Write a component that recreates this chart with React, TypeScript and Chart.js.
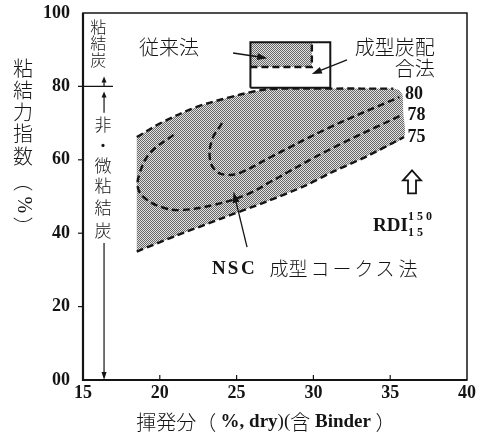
import React, { useEffect, useRef } from 'react';
import { Chart, registerables } from 'chart.js';

Chart.register(...registerables);

// ---- axes ----
const xMin = 15;
const xMax = 40;
const yMin = 0;
const yMax = 100;
const yTickLabels: Record<number, string> = { 0: '00', 20: '20', 40: '40', 60: '60', 80: '80', 100: '100' };

// ---- NSC成型コークス法 region (shaded envelope) ----
const envelopeX = [18.5, 20.2, 22.4, 24.6, 26.1, 27.2, 31.0, 35.2, 35.55, 35.8, 35.85, 35.9, 33.5, 31.1, 29.5, 27.0, 24.0, 21.0, 18.5];
const envelopeY = [66.2, 70.3, 74.4, 77.1, 78.6, 79.3, 79.4, 79.4, 79.0, 77.7, 72.8, 66.2, 61.0, 56.4, 53.0, 48.7, 44.0, 39.2, 35.0];

// upper dashed boundary of the region
const topX = [18.5, 20.2, 22.4, 24.6, 26.1, 27.2, 31.0, 35.2];
const topY = [66.2, 70.3, 74.4, 77.1, 78.6, 79.3, 79.4, 79.4];

// RDI contours
const c75X = [18.5, 21.0, 24.0, 27.0, 29.5, 31.1, 33.5, 35.9];
const c75Y = [35.0, 39.2, 44.0, 48.7, 53.0, 56.4, 61.0, 66.2];
const c78X = [20.9, 19.4, 18.7, 18.6, 19.2, 20.2, 21.3, 23.5, 25.7, 27.2, 31.1, 35.6];
const c78Y = [66.8, 62.0, 56.5, 52.0, 49.0, 47.0, 46.3, 47.7, 50.6, 54.0, 62.9, 71.9];
const c80X = [24.05, 23.4, 23.27, 23.7, 24.4, 25.2, 27.2, 31.1, 35.6];
const c80Y = [70.0, 65.4, 60.0, 56.8, 55.9, 56.4, 60.7, 68.9, 77.1];

// 成型炭配合法 box and 従来法 box
const boxX = [25.9, 25.9, 31.1, 31.1, 25.9];
const boxY = [79.6, 92.0, 92.0, 79.6, 79.6];
const oldFillX = [25.9, 29.9, 29.9, 25.9];
const oldFillY = [92.0, 92.0, 85.3, 85.3];
const oldEdgeX = [25.9, 29.9, 29.9];
const oldEdgeY = [85.3, 85.3, 92.0];

// ---- texts (data coordinates) ----
const contourLabels = ['80', '78', '75'];
const contourLabelX = [35.96, 36.12, 36.12];
const contourLabelY = [77.7, 72.2, 66.2];

const nscChars = ['N', 'S', 'C', '成', '型', 'コ', 'ー', 'ク', 'ス', '法'];
const nscCharX = [23.85, 24.77, 25.74, 27.76, 29.0, 30.43, 31.86, 33.29, 34.66, 36.16];
const nscY = 30.2;

const yTitleChars = ['粘', '結', '力', '指', '数', '︵', '%', '︶'];
const yTitleCharY = [85.0, 79.0, 73.0, 67.3, 60.8, 54.0, 47.7, 41.7];
const yTitleX = 11.1;

const cokingChars = ['粘', '結', '炭'];
const cokingCharY = [96.2, 91.8, 87.2];
const nonCokingChars = ['非', '・', '微', '粘', '結', '炭'];
const nonCokingCharY = [69.5, 64.0, 58.3, 52.9, 47.1, 40.6];

const CJK = '"Noto Sans CJK JP", sans-serif';
const SERIF = '"Liberation Serif", "DejaVu Serif", serif';
const INK = '#141414';

function makePattern(): CanvasPattern | string {
  const c = document.createElement('canvas');
  c.width = 2;
  c.height = 2;
  const g = c.getContext('2d');
  if (!g) return '#a0a0a0';
  g.fillStyle = '#e2e2e2';
  g.fillRect(0, 0, 2, 2);
  g.fillStyle = '#686868';
  g.fillRect(0, 0, 1, 1);
  g.fillRect(1, 1, 1, 1);
  const p = g.createPattern(c, 'repeat');
  return p || '#a0a0a0';
}

function pts(xs: number[], ys: number[]) {
  return xs.map((v, i) => ({ x: v, y: ys[i] }));
}

function drawArrow(ctx: CanvasRenderingContext2D, x1: number, y1: number, x2: number, y2: number, len = 9, half = 3.5) {
  const ang = Math.atan2(y2 - y1, x2 - x1);
  ctx.beginPath();
  ctx.moveTo(x1, y1);
  ctx.lineTo(x2 - Math.cos(ang) * len * 0.6, y2 - Math.sin(ang) * len * 0.6);
  ctx.stroke();
  ctx.beginPath();
  ctx.moveTo(x2, y2);
  ctx.lineTo(x2 - Math.cos(ang) * len + Math.sin(ang) * half, y2 - Math.sin(ang) * len - Math.cos(ang) * half);
  ctx.lineTo(x2 - Math.cos(ang) * len - Math.sin(ang) * half, y2 - Math.sin(ang) * len + Math.cos(ang) * half);
  ctx.closePath();
  ctx.fill();
}

const annotations = {
  id: 'annotations',
  afterDraw(chart: any) {
    const { ctx, chartArea: a, scales } = chart;
    const xs = scales.x;
    const ys = scales.y;
    const px = (v: number) => xs.getPixelForValue(v);
    const py = (v: number) => ys.getPixelForValue(v);
    ctx.save();
    ctx.strokeStyle = INK;
    ctx.fillStyle = INK;

    // frame
    ctx.lineWidth = 1.5;
    ctx.strokeRect(a.left, a.top, a.right - a.left, a.bottom - a.top);
    ctx.lineWidth = 2.2;
    ctx.beginPath();
    ctx.moveTo(a.left, a.top);
    ctx.lineTo(a.left, a.bottom);
    ctx.lineTo(a.right, a.bottom);
    ctx.stroke();

    // ticks
    ctx.lineWidth = 1.2;
    [20, 40, 60].forEach((v) => {
      ctx.beginPath();
      ctx.moveTo(a.left - 5, py(v));
      ctx.lineTo(a.left, py(v));
      ctx.stroke();
    });
    [20, 25, 30, 35].forEach((v) => {
      ctx.beginPath();
      ctx.moveTo(px(v), a.bottom);
      ctx.lineTo(px(v), a.bottom - 5);
      ctx.stroke();
    });
    // 80 boundary line at left
    ctx.beginPath();
    ctx.moveTo(a.left - 5, py(80));
    ctx.lineTo(px(16.95), py(80));
    ctx.stroke();

    // vertical range arrows
    const ax = px(16.37);
    ctx.lineWidth = 1.2;
    drawArrow(ctx, ax, py(80), ax, py(82.7), 6, 2.5);
    drawArrow(ctx, ax, py(72.8), ax, py(78.6), 6, 2.5);
    drawArrow(ctx, ax, py(37.3), ax, py(0), 8, 2.5);

    // pointer arrows
    ctx.lineWidth = 1.3;
    drawArrow(ctx, px(24.77), py(89.1), px(27.0), py(87.7), 10, 3.5);
    drawArrow(ctx, px(32.19), py(87.2), px(29.9), py(83.4), 10, 3.5);
    drawArrow(ctx, px(25.68), py(36.2), px(24.8), py(51.3), 11, 3.5);

    // hollow up arrow
    {
      const cx = px(36.42);
      const cy = py(54.0);
      ctx.lineWidth = 1.8;
      ctx.beginPath();
      ctx.moveTo(cx, cy - 11.5);
      ctx.lineTo(cx + 9, cy - 1.5);
      ctx.lineTo(cx + 4, cy - 1.5);
      ctx.lineTo(cx + 4, cy + 11.5);
      ctx.lineTo(cx - 4, cy + 11.5);
      ctx.lineTo(cx - 4, cy - 1.5);
      ctx.lineTo(cx - 9, cy - 1.5);
      ctx.closePath();
      ctx.stroke();
    }

    // texts
    ctx.textBaseline = 'middle';
    ctx.textAlign = 'center';
    ctx.font = `300 20px ${CJK}`;
    ctx.fillText('従来法', px(20.6), py(90.5));
    ctx.textAlign = 'right';
    ctx.fillText('成型炭配', px(37.9), py(90.7));
    ctx.fillText('合法', px(37.9), py(85.0));

    ctx.textAlign = 'left';
    ctx.font = `bold 18px ${SERIF}`;
    contourLabels.forEach((t, i) => ctx.fillText(t, px(contourLabelX[i]), py(contourLabelY[i])));

    // RDI
    ctx.font = `bold 19px ${SERIF}`;
    ctx.fillText('RDI', px(33.88), py(42.0));
    ctx.font = `bold 12px ${SERIF}`;
    ctx.fillText('1 5 0', px(36.16), py(44.4));
    ctx.fillText('1 5', px(36.16), py(40.1));

    // NSC成型コークス法
    ctx.textAlign = 'center';
    nscChars.forEach((c, i) => {
      ctx.font = /[A-Z]/.test(c) ? `bold 19px ${SERIF}` : `300 19px ${CJK}`;
      ctx.fillText(c, px(nscCharX[i]), py(nscY));
    });

    // left vertical texts
    ctx.font = `300 16px ${CJK}`;
    cokingChars.forEach((c, i) => ctx.fillText(c, px(16.0), py(cokingCharY[i])));
    ctx.font = `300 17px ${CJK}`;
    nonCokingChars.forEach((c, i) => ctx.fillText(c, px(16.3), py(nonCokingCharY[i])));

    // y title
    ctx.font = `300 20px ${CJK}`;
    yTitleChars.forEach((c, i) => {
      if (c === '%') {
        ctx.save();
        ctx.font = `20px ${SERIF}`;
        ctx.translate(px(yTitleX), py(yTitleCharY[i]));
        ctx.rotate(Math.PI / 2);
        ctx.fillText('%', 0, 0);
        ctx.restore();
      } else {
        ctx.fillText(c, px(yTitleX), py(yTitleCharY[i]));
      }
    });

    // x title
    const pieces: [string, string][] = [
      ['揮発分', `300 20px ${CJK}`],
      ['（ ', `300 20px ${CJK}`],
      ['%, dry', `bold 19px ${SERIF}`],
      [')(', `19px ${SERIF}`],
      ['含', `300 20px ${CJK}`],
      [' Binder', `bold 19px ${SERIF}`],
      [' ）', `300 20px ${CJK}`],
    ];
    let total = 0;
    pieces.forEach(([t, f]) => {
      ctx.font = f;
      total += ctx.measureText(t).width;
    });
    let cur = px(26.9) - total / 2;
    const ty = a.bottom + 42;
    ctx.textAlign = 'left';
    pieces.forEach(([t, f]) => {
      ctx.font = f;
      ctx.fillText(t, cur, ty);
      cur += ctx.measureText(t).width;
    });

    ctx.restore();
  },
};

export default function App() {
  const ref = useRef<HTMLCanvasElement | null>(null);
  useEffect(() => {
    if (!ref.current) return;
    const pattern = makePattern();
    const dashed = (xs: number[], ys: number[], tension: number) => ({
      data: pts(xs, ys),
      showLine: true,
      borderColor: INK,
      borderWidth: 2.4,
      borderDash: [7, 4],
      pointRadius: 0,
      fill: false,
      tension,
    });
    const chart = new Chart(ref.current, {
      type: 'scatter',
      data: {
        // Chart.js draws the last dataset first, so the fills go at the end
        datasets: [
          {
            data: pts(boxX, boxY),
            showLine: true,
            borderColor: INK,
            borderWidth: 2,
            pointRadius: 0,
            fill: false,
            tension: 0,
          },
          dashed(oldEdgeX, oldEdgeY, 0),
          dashed(topX, topY, 0.35),
          dashed(c75X, c75Y, 0.3),
          dashed(c78X, c78Y, 0.4),
          dashed(c80X, c80Y, 0.4),
          {
            data: pts(oldFillX, oldFillY),
            showLine: true,
            borderWidth: 0,
            borderColor: 'rgba(0,0,0,0)',
            backgroundColor: pattern as any,
            fill: 'shape',
            pointRadius: 0,
            tension: 0,
          },
          {
            data: pts(envelopeX, envelopeY),
            showLine: true,
            borderWidth: 0,
            borderColor: 'rgba(0,0,0,0)',
            backgroundColor: pattern as any,
            fill: 'shape',
            pointRadius: 0,
            tension: 0.2,
          },
        ] as any,
      },
      options: {
        animation: false,
        responsive: true,
        maintainAspectRatio: false,
        layout: { padding: { top: 13, right: 16, left: 0, bottom: 0 } },
        plugins: { legend: { display: false }, tooltip: { enabled: false } },
        scales: {
          x: {
            type: 'linear',
            min: xMin,
            max: xMax,
            border: { display: false },
            grid: { display: false, drawTicks: false },
            ticks: {
              stepSize: 5,
              autoSkip: false,
              maxRotation: 0,
              padding: 3,
              color: INK,
              font: { family: SERIF, size: 18, weight: 'bold' },
            },
            afterFit: (s: any) => {
              s.height = 54;
              s.paddingLeft = 0;
              s.paddingRight = 0;
            },
          },
          y: {
            type: 'linear',
            min: yMin,
            max: yMax,
            border: { display: false },
            grid: { display: false, drawTicks: false },
            ticks: {
              stepSize: 20,
              padding: 13,
              color: INK,
              font: { family: SERIF, size: 18, weight: 'bold' },
              callback: (v: any) => yTickLabels[v as number] ?? '',
            },
            afterFit: (s: any) => {
              s.width = 83;
              s.paddingTop = 0;
              s.paddingBottom = 0;
            },
          },
        },
      } as any,
      plugins: [annotations],
    });
    return () => chart.destroy();
  }, []);
  return (
    <div style={{ position: 'fixed', left: 0, top: 0, width: 483, height: 434, background: '#fff' }}>
      <canvas ref={ref} />
    </div>
  );
}
